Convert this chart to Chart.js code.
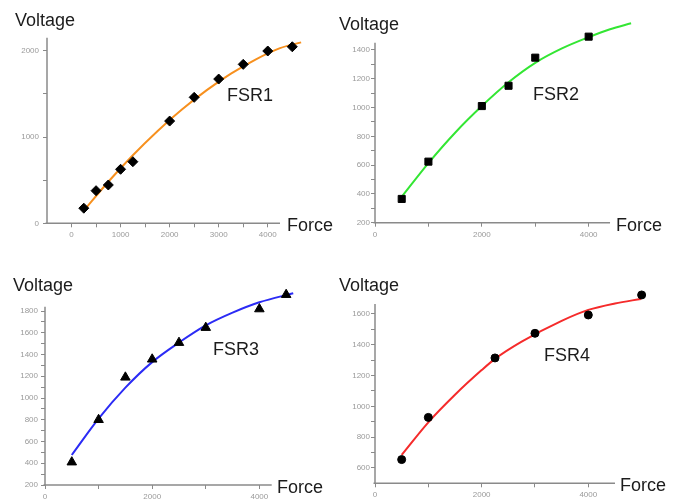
<!DOCTYPE html>
<html><head><meta charset="utf-8">
<script src="https://cdn.jsdelivr.net/npm/chart.js@4.4.1/dist/chart.umd.min.js"></script>
<style>
html,body{margin:0;padding:0;background:#fff;}
body{width:681px;height:499px;overflow:hidden;position:relative;font-family:"Liberation Sans",Arial,sans-serif;}
canvas{position:absolute;display:block;}
.t{position:absolute;font-size:18px;line-height:18px;color:#1c1c1c;white-space:nowrap;z-index:2;}
</style></head>
<body>
<canvas id="c1" width="340" height="250" style="left:0;top:0"></canvas>
<canvas id="c2" width="341" height="250" style="left:340px;top:0"></canvas>
<canvas id="c3" width="340" height="249" style="left:0;top:250px"></canvas>
<canvas id="c4" width="341" height="249" style="left:340px;top:250px"></canvas>

<div class="t" style="left:15px;top:11px">Voltage</div>
<div class="t" style="left:339px;top:15px">Voltage</div>
<div class="t" style="left:13px;top:276px">Voltage</div>
<div class="t" style="left:339px;top:276px">Voltage</div>
<div class="t" style="left:287px;top:216px">Force</div>
<div class="t" style="left:616px;top:216px">Force</div>
<div class="t" style="left:277px;top:478px">Force</div>
<div class="t" style="left:620px;top:476px">Force</div>
<div class="t" style="left:227px;top:86px">FSR1</div>
<div class="t" style="left:533px;top:85px">FSR2</div>
<div class="t" style="left:213px;top:340px">FSR3</div>
<div class="t" style="left:544px;top:346px">FSR4</div>

<script>
// ---- FSR1 ----
const fsr1Force   = [250, 500, 750, 1000, 1250, 2000, 2500, 3000, 3500, 4000, 4500];
const fsr1Voltage = [175, 378, 444, 626, 714, 1185, 1460, 1672, 1842, 1997, 2046];
const fsr1FitForce   = [250, 750, 1250, 1750, 2250, 2750, 3250, 3750, 4250, 4680];
const fsr1FitVoltage = [146, 482, 789, 1068, 1318, 1540, 1734, 1898, 2030, 2097];
const fsr1XTicks = [0, 500, 1000, 1500, 2000, 2500, 3000, 3500, 4000];
const fsr1XLabels = [0, 1000, 2000, 3000, 4000];
const fsr1YTicks = [0, 500, 1000, 1500, 2000];
const fsr1YLabels = [0, 1000, 2000];

// ---- FSR2 ----
const fsr2Force   = [500, 1000, 2000, 2500, 3000, 4000];
const fsr2Voltage = [365, 624, 1010, 1151, 1346, 1492];
const fsr2FitForce   = [500, 1000, 1500, 2000, 2500, 3000, 3500, 4000, 4400, 4794];
const fsr2FitVoltage = [380, 614, 825, 1010, 1175, 1310, 1410, 1488, 1543, 1585];
const fsr2XTicks = [0, 1000, 2000, 3000, 4000];
const fsr2XLabels = [0, 2000, 4000];
const fsr2YTicks = [200, 300, 400, 500, 600, 700, 800, 900, 1000, 1100, 1200, 1300, 1400];
const fsr2YLabels = [200, 400, 600, 800, 1000, 1200, 1400];

// ---- FSR3 ----
const fsr3Force   = [500, 1000, 1500, 2000, 2500, 3000, 4000, 4500];
const fsr3Voltage = [410, 800, 1190, 1356, 1509, 1647, 1818, 1950];
const fsr3FitForce   = [500, 1000, 1500, 2000, 2500, 3000, 3500, 4000, 4632];
const fsr3FitVoltage = [476, 810, 1095, 1330, 1510, 1668, 1785, 1880, 1963];
const fsr3XTicks = [0, 1000, 2000, 3000, 4000];
const fsr3XLabels = [0, 2000, 4000];
const fsr3YTicks = [200, 300, 400, 500, 600, 700, 800, 900, 1000, 1100, 1200, 1300, 1400, 1500, 1600, 1700, 1800];
const fsr3YLabels = [200, 400, 600, 800, 1000, 1200, 1400, 1600, 1800];

// ---- FSR4 ----
const fsr4Force   = [500, 1000, 2250, 3000, 4000, 5000];
const fsr4Voltage = [654, 928, 1314, 1474, 1593, 1723];
const fsr4FitForce   = [500, 1000, 1500, 2000, 2250, 2750, 3500, 4000, 4500, 4988];
const fsr4FitVoltage = [684, 896, 1075, 1235, 1308, 1420, 1555, 1626, 1668, 1697];
const fsr4XTicks = [0, 1000, 2000, 3000, 4000];
const fsr4XLabels = [0, 2000, 4000];
const fsr4YTicks = [600, 700, 800, 900, 1000, 1100, 1200, 1300, 1400, 1500, 1600];
const fsr4YLabels = [600, 800, 1000, 1200, 1400, 1600];

const AXIS = '#8a8a8a';
const TICKTXT = '#9a9a9a';
const FAM = '"Liberation Sans", Arial, sans-serif';

function pts(xs, ys){ return xs.map((x,i)=>({x:x, y:ys[i]})); }

// draws the visible axis lines only over the ranges that the original axes span
const axisLines = {
  id: 'axisLines',
  beforeDatasetsDraw(chart, args, o) {
    const {ctx, scales: {x, y}} = chart;
    const xa = x.getPixelForValue(x.min), xb = x.getPixelForValue(o.xEnd);
    const ya = y.getPixelForValue(y.min), yb = y.getPixelForValue(o.yEnd);
    ctx.save();
    ctx.strokeStyle = AXIS; ctx.lineWidth = 1.5;
    ctx.beginPath();
    ctx.moveTo(xa - 1.5, ya); ctx.lineTo(xb, ya);
    ctx.moveTo(xa, ya); ctx.lineTo(xa, yb);
    ctx.stroke();
    ctx.restore();
  }
};

function makeChart(id, o){
  const cv = document.getElementById(id);
  const W = cv.width, H = cv.height;
  return new Chart(cv, {
    type: 'scatter',
    data: { datasets: [
      { data: pts(o.fx, o.fy), showLine: true, borderColor: o.color, borderWidth: 2,
        pointRadius: 0, cubicInterpolationMode: 'monotone', clip: false, order: 2 },
      { data: pts(o.px, o.py), pointStyle: o.style, pointRadius: o.r, rotation: 0,
        backgroundColor: '#000', borderColor: '#000', borderWidth: 1, clip: false, order: 1 }
    ]},
    plugins: [axisLines],
    options: {
      responsive: false, animation: false, devicePixelRatio: 1,
      layout: { padding: { left: 0, top: o.area.top, right: W - o.area.right, bottom: 0 } },
      plugins: { legend: { display: false }, tooltip: { enabled: false },
                 axisLines: { xEnd: o.xEnd, yEnd: o.yEnd } },
      scales: {
        x: {
          type: 'linear', min: o.xmin, max: o.xmax,
          afterBuildTicks: s => { s.ticks = o.xt.map(v => ({ value: v })); },
          afterFit: s => { s.height = H - o.area.bottom; },
          grid: { drawOnChartArea: false, drawTicks: true, tickLength: 4, tickColor: AXIS, tickWidth: 1 },
          border: { display: false },
          ticks: { autoSkip: false, maxRotation: 0, padding: 3, color: TICKTXT,
                   font: { size: 8, family: FAM },
                   callback: v => o.xl.includes(v) ? String(v) : '' }
        },
        y: {
          type: 'linear', min: o.ymin, max: o.ymax,
          afterBuildTicks: s => { s.ticks = o.yt.map(v => ({ value: v })); },
          afterFit: s => { s.width = o.area.left; },
          grid: { drawOnChartArea: false, drawTicks: true, tickLength: 4, tickColor: AXIS, tickWidth: 1 },
          border: { display: false },
          ticks: { autoSkip: false, padding: o.ypad, color: TICKTXT,
                   font: { size: 8, family: FAM },
                   callback: v => o.yl.includes(v) ? String(v) : '' }
        }
      }
    }
  });
}

makeChart('c1', { fx: fsr1FitForce, fy: fsr1FitVoltage, px: fsr1Force, py: fsr1Voltage,
  color: '#f7901e', style: 'rectRot', r: 5,
  xmin: -500, xmax: 4700, ymin: 0, ymax: 2150, xEnd: 4250, yEnd: 2150,
  xt: fsr1XTicks, xl: fsr1XLabels, yt: fsr1YTicks, yl: fsr1YLabels, ypad: 4,
  area: { left: 47, right: 302.1, top: 37.8, bottom: 223.3 } });

makeChart('c2', { fx: fsr2FitForce, fy: fsr2FitVoltage, px: fsr2Force, py: fsr2Voltage,
  color: '#33e633', style: 'rect', r: 5,
  xmin: 0, xmax: 4800, ymin: 200, ymax: 1600, xEnd: 4400, yEnd: 1450,
  xt: fsr2XTicks, xl: fsr2XLabels, yt: fsr2YTicks, yl: fsr2YLabels, ypad: 1,
  area: { left: 35, right: 291.4, top: 21.1, bottom: 222.7 } });

makeChart('c3', { fx: fsr3FitForce, fy: fsr3FitVoltage, px: fsr3Force, py: fsr3Voltage,
  color: '#2b2bf5', style: 'triangle', r: 5.5,
  xmin: 0, xmax: 4650, ymin: 200, ymax: 2000, xEnd: 4230, yEnd: 1840,
  xt: fsr3XTicks, xl: fsr3XLabels, yt: fsr3YTicks, yl: fsr3YLabels, ypad: 3,
  area: { left: 45, right: 294.2, top: 39.25, bottom: 235 } });

makeChart('c4', { fx: fsr4FitForce, fy: fsr4FitVoltage, px: fsr4Force, py: fsr4Voltage,
  color: '#f52b2b', style: 'circle', r: 4,
  xmin: 0, xmax: 5050, ymin: 500, ymax: 1750, xEnd: 4500, yEnd: 1665,
  xt: fsr4XTicks, xl: fsr4XLabels, yt: fsr4YTicks, yl: fsr4YLabels, ypad: 1,
  area: { left: 35, right: 304.3, top: 40.8, bottom: 233.3 } });
</script>
</body></html>
